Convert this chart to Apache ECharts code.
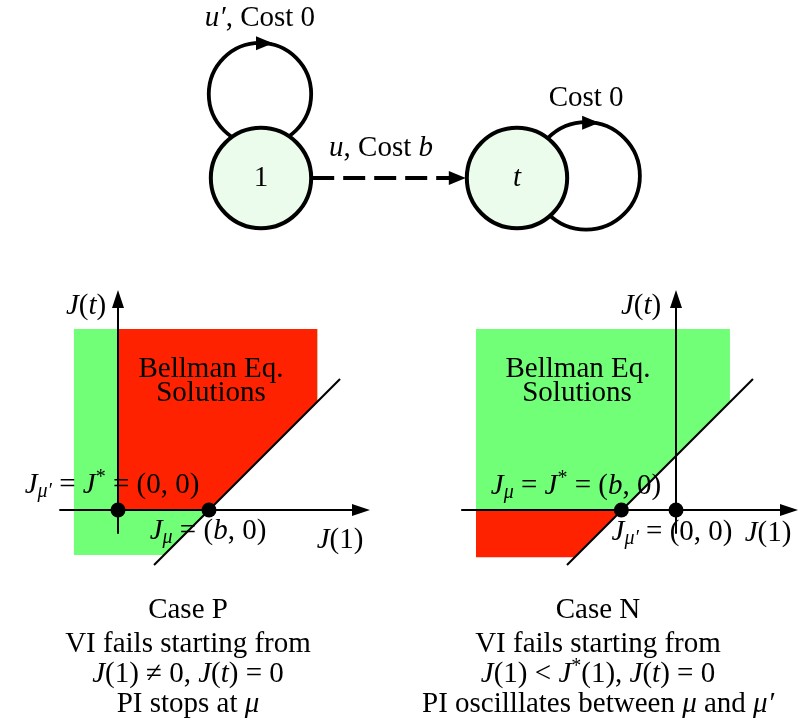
<!DOCTYPE html>
<html>
<head>
<meta charset="utf-8">
<script src="https://cdn.jsdelivr.net/npm/echarts@6/dist/echarts.min.js"></script>
<style>
  html, body { margin: 0; background: #fff; }
  #main { width: 798px; height: 725px; }
</style>
</head>
<body>
<div id="main"></div>
<script>
// ---- graph diagram (units: node radius = 1) ----
const nodeNames = ['1', 't'];
const nodeX = [0, 5];
const nodeY = [0, 0];
const loopX = [-0.02, 6.35];
const loopY = [1.64, 0.04];
const loopR = [1.0, 1.05];
const loopLabels = ['{i|u′}{r|, Cost 0}', '{r|Cost 0}'];
const edgeLabel = '{i|u}{r|, Cost }{i|b}';

// ---- Case P: b > 0 ----
const greenP = [[-0.484, 1.99], [2.19, 1.99], [2.19, 1.19], [0.505, -0.495], [-0.484, -0.495]];
const redP = [[0, 0], [1, 0], [2.19, 1.19], [2.19, 1.99], [0, 1.99]];
const lineP = [[0.396, -0.604], [2.44, 1.44]];
const dotsP = [[0, 0], [1, 0]];

// ---- Case N: b < 0 ----
const greenN = [[-2.198, 1.99], [0.593, 1.99], [0.593, 1.193], [-1.095, -0.495], [-2.198, -0.495]];
const redN = [[-2.198, 0], [-0.6, 0], [-1.12, -0.52], [-2.198, -0.52]];
const lineN = [[-1.198, -0.604], [0.846, 1.44]];
const dotsN = [[-0.6, 0], [0, 0]];

const serif = 'Liberation Serif';
const rich = {
  r: {fontFamily: serif, fontSize: 29, lineHeight: 34, fill: '#000'},
  i: {fontFamily: serif, fontStyle: 'italic', fontSize: 29, lineHeight: 34, fill: '#000'},
  sb: {fontFamily: serif, fontStyle: 'italic', fontSize: 20, lineHeight: 20, verticalAlign: 'bottom', fill: '#000'},
  sp: {fontFamily: serif, fontSize: 20, lineHeight: 20, verticalAlign: 'top', fill: '#000'}
};

const U = 91;  // px per unit, phase-plane panels
const panels = [
  {ox: 118, oy: 510, xMin: -0.637, xMax: 2.67, yMin: -0.253, yMax: 2.32},
  {ox: 676, oy: 510, xMin: -2.352, xMax: 1.242, yMin: -0.253, yMax: 2.32}
];
const U2 = 51.2; // px per unit, graph diagram
const top0 = {ox: 261, oy: 178, w: 798, h: 260};

const grids = panels.map(p => ({
  left: p.ox + p.xMin * U, top: p.oy - p.yMax * U,
  width: (p.xMax - p.xMin) * U, height: (p.yMax - p.yMin) * U
}));
grids.push({left: 0, top: 0, width: top0.w, height: top0.h});

const axisLine = {
  onZero: true, symbol: ['none', 'triangle'], symbolSize: [12, 18],
  lineStyle: {color: '#000', width: 2}
};
const xAxes = panels.map((p, gi) => ({
  gridIndex: gi, type: 'value', min: p.xMin, max: p.xMax, z: 5,
  axisLine, axisTick: {show: false}, axisLabel: {show: false}, splitLine: {show: false}
}));
const yAxes = panels.map((p, gi) => ({
  gridIndex: gi, type: 'value', min: p.yMin, max: p.yMax, z: 5,
  axisLine, axisTick: {show: false}, axisLabel: {show: false}, splitLine: {show: false}
}));
xAxes.push({gridIndex: 2, type: 'value', show: false,
  min: -top0.ox / U2, max: (top0.w - top0.ox) / U2});
yAxes.push({gridIndex: 2, type: 'value', show: false,
  min: -(top0.h - top0.oy) / U2, max: top0.oy / U2});

function polySeries(gi, verts, color) {
  return {
    type: 'custom', xAxisIndex: gi, yAxisIndex: gi, z: 1, silent: true, clip: false,
    data: verts,
    renderItem: (params, api) => params.dataIndex !== 0 ? null : {
      type: 'polygon',
      shape: {points: verts.map(v => api.coord(v))},
      style: {fill: color}
    }
  };
}
function diagSeries(gi, data) {
  return {type: 'line', xAxisIndex: gi, yAxisIndex: gi, z: 6, clip: false, silent: true,
    showSymbol: false, data, lineStyle: {color: '#000', width: 2}};
}
function dotSeries(gi, data) {
  return {type: 'scatter', xAxisIndex: gi, yAxisIndex: gi, z: 10, silent: true,
    symbolSize: 15, itemStyle: {color: '#000', opacity: 1}, data};
}

const green = '#72ff78', red = '#ff2200';

const series = [
  polySeries(0, greenP, green), polySeries(0, redP, red),
  diagSeries(0, lineP), dotSeries(0, dotsP),
  polySeries(1, greenN, green), polySeries(1, redN, red),
  diagSeries(1, lineN), dotSeries(1, dotsN),
  // self loops
  {
    type: 'custom', xAxisIndex: 2, yAxisIndex: 2, z: 1, silent: true, clip: false,
    data: loopX.map((x, i) => [x, loopY[i]]),
    renderItem: (params, api) => {
      const i = params.dataIndex;
      const c = api.coord([api.value(0), api.value(1)]);
      const r = api.size([loopR[i], 0])[0];
      const ty = c[1] - r, tx = c[0] + 13;
      return {type: 'group', children: [
        {type: 'circle', shape: {cx: c[0], cy: c[1], r}, style: {fill: 'none', stroke: '#000', lineWidth: 3.8}},
        {type: 'polygon', shape: {points: [[tx, ty + 0.5], [tx - 17, ty - 6.5], [tx - 17, ty + 7.5]]}, style: {fill: '#000'}},
        {type: 'text', style: {text: loopLabels[i], rich, x: c[0], y: ty - 24, align: 'center', verticalAlign: 'middle'}}
      ]};
    }
  },
  // edge 1 -> t
  {
    type: 'custom', xAxisIndex: 2, yAxisIndex: 2, z: 2, silent: true, clip: false,
    data: [[0, 1]],
    renderItem: (params, api) => {
      const a = api.coord([nodeX[0], nodeY[0]]);
      const b = api.coord([nodeX[1], nodeY[1]]);
      const r = api.size([1, 0])[0];
      const x0 = a[0] + r, tip = b[0] - r, y = a[1];
      return {type: 'group', children: [
        {type: 'line', shape: {x1: x0, y1: y, x2: tip - 14, y2: y},
          style: {stroke: '#000', lineWidth: 4, lineDash: [22, 9]}},
        {type: 'polygon', shape: {points: [[tip, y], [tip - 17, y - 7], [tip - 17, y + 7]]}, style: {fill: '#000'}},
        {type: 'text', style: {text: edgeLabel, rich, x: (x0 + tip) / 2 - 8, y: y - 30, align: 'center', verticalAlign: 'middle'}}
      ]};
    }
  },
  // nodes
  {
    type: 'custom', xAxisIndex: 2, yAxisIndex: 2, z: 3, silent: true, clip: false,
    data: nodeX.map((x, i) => [x, nodeY[i]]),
    renderItem: (params, api) => {
      const i = params.dataIndex;
      const c = api.coord([api.value(0), api.value(1)]);
      const r = api.size([0.98, 0])[0];
      const name = nodeNames[i];
      const txt = /^\d+$/.test(name) ? '{r|' + name + '}' : '{i|' + name + '}';
      return {type: 'group', children: [
        {type: 'circle', shape: {cx: c[0], cy: c[1], r}, style: {fill: '#ecfcec', stroke: '#000', lineWidth: 4}},
        {type: 'text', style: {text: txt, rich, x: c[0], y: c[1], align: 'center', verticalAlign: 'middle'}}
      ]};
    }
  }
];

// annotation texts (pixel placement)
const texts = [
  [86, 306, '{i|J}{r|(}{i|t}{r|)}'],
  [211, 369, '{r|Bellman Eq.}'],
  [211, 393, '{r|Solutions}'],
  [112, 485, '{i|J}{sb|μ′}{r| = }{i|J}{sp|*}{r| = (0, 0)}'],
  [208, 531, '{i|J}{sb|μ}{r| = (}{i|b}{r|, 0)}'],
  [340, 540, '{i|J}{r|(1)}'],
  [641, 306, '{i|J}{r|(}{i|t}{r|)}'],
  [578, 369, '{r|Bellman Eq.}'],
  [577, 393, '{r|Solutions}'],
  [576, 486, '{i|J}{sb|μ}{r| = }{i|J}{sp|*}{r| = (}{i|b}{r|, 0)}'],
  [672, 532, '{i|J}{sb|μ′}{r| = (0, 0)}'],
  [768, 533, '{i|J}{r|(1)}'],
  [188, 610, '{r|Case P}'],
  [188, 644, '{r|VI fails starting from}'],
  [188, 674, '{i|J}{r|(1) ≠ 0, }{i|J}{r|(}{i|t}{r|) = 0}'],
  [188, 704, '{r|PI stops at }{i|μ}'],
  [598, 610, '{r|Case N}'],
  [598, 644, '{r|VI fails starting from}'],
  [598, 674, '{i|J}{r|(1) < }{i|J}{sp|*}{r|(1), }{i|J}{r|(}{i|t}{r|) = 0}'],
  [598, 704, '{r|PI oscilllates between }{i|μ}{r| and }{i|μ′}']
];

const chart = echarts.init(document.getElementById('main'));
chart.setOption({
  animation: false,
  backgroundColor: '#fff',
  grid: grids,
  xAxis: xAxes,
  yAxis: yAxes,
  series,
  graphic: texts.map(([x, y, t]) => ({
    type: 'text', x, y, z: 20, silent: true,
    style: {text: t, rich, align: 'center', verticalAlign: 'middle', fill: '#000',
      fontFamily: serif, fontSize: 29}
  }))
});
</script>
</body>
</html>
